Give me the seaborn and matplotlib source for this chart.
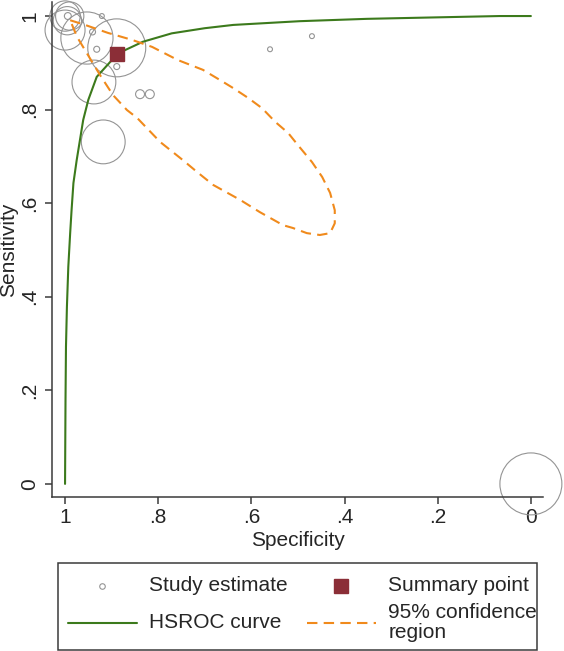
#!/usr/bin/env python3
# HSROC plot: study estimates, summary point, HSROC curve, 95% confidence region

import matplotlib
matplotlib.use("Agg")
import matplotlib.pyplot as plt
from matplotlib.lines import Line2D
from matplotlib.patches import Rectangle
import pandas as pd
import seaborn as sns

# ----------------------------
# Data
# ----------------------------
study_spec = [0.0, 0.889, 0.953, 0.938, 0.918, 1.0, 1.0, 0.995, 0.99,
              0.994, 0.921, 0.941, 0.932, 0.889, 0.839, 0.818, 0.560, 0.470]
study_sens = [0.0, 0.932, 0.953, 0.859, 0.731, 0.97, 1.0, 0.99, 1.0,
              1.0, 1.0, 0.966, 0.929, 0.892, 0.833, 0.833, 0.929, 0.957]
study_weight = [960, 840, 680, 480, 480, 400, 230, 200, 200,
                12, 6, 9, 9, 9, 20, 20, 6, 6]

summary_spec = [0.889]
summary_sens = [0.918]

hsroc_spec = [1.0, 0.999, 0.998, 0.996, 0.993, 0.989, 0.986, 0.982, 0.975,
              0.968, 0.961, 0.950, 0.932, 0.903, 0.878, 0.833, 0.771, 0.700,
              0.639, 0.496, 0.352, 0.210, 0.067, 0.0]
hsroc_sens = [0.0, 0.179, 0.293, 0.378, 0.464, 0.536, 0.585, 0.643, 0.692,
              0.735, 0.778, 0.821, 0.870, 0.902, 0.924, 0.945, 0.963, 0.974,
              0.981, 0.989, 0.994, 0.997, 1.000, 1.0]

region_spec = [0.989, 0.957, 0.908, 0.856, 0.813, 0.758, 0.704, 0.667, 0.639,
               0.607, 0.577, 0.549, 0.521, 0.500, 0.470, 0.448, 0.431, 0.421,
               0.421, 0.431, 0.453, 0.481, 0.511, 0.532, 0.582, 0.624, 0.682,
               0.717, 0.747, 0.796, 0.845, 0.867, 0.897, 0.925, 0.951, 0.974,
               0.989]
region_sens = [0.991, 0.981, 0.964, 0.949, 0.934, 0.906, 0.885, 0.863, 0.846,
               0.825, 0.803, 0.774, 0.750, 0.724, 0.688, 0.656, 0.622, 0.585,
               0.557, 0.536, 0.532, 0.536, 0.547, 0.553, 0.581, 0.607, 0.639,
               0.667, 0.692, 0.731, 0.782, 0.799, 0.831, 0.874, 0.917, 0.955,
               0.991]

tick_values = [1, 0.8, 0.6, 0.4, 0.2, 0]
tick_labels = ["1", ".8", ".6", ".4", ".2", "0"]

legend_labels = ["Study estimate", "HSROC curve", "Summary point",
                 "95% confidence\nregion"]

GREEN = "#3c7a1c"
ORANGE = "#f08a1c"
MAROON = "#8b2e37"
GREY = "#949494"
AXIS = "#3a3a3a"
DASH = (0, (5, 3))


def main():
    sns.set_style("ticks")
    plt.rcParams["font.family"] = ["Liberation Sans", "DejaVu Sans"]
    plt.rcParams["font.size"] = 15

    fig = plt.figure(figsize=(5.64, 6.51), dpi=100)
    ax = fig.add_axes([52 / 564, 154 / 651, 491 / 564, 495 / 651])

    studies = pd.DataFrame({"spec": study_spec, "sens": study_sens,
                            "w": study_weight})
    sns.scatterplot(data=studies, x="spec", y="sens", size="w",
                    sizes=(0, 1990), size_norm=(0, max(study_weight)),
                    facecolors="none", edgecolors=GREY, linewidths=0.8,
                    legend=False, ax=ax, clip_on=False, zorder=2)

    sns.lineplot(x=hsroc_spec, y=hsroc_sens, sort=False, estimator=None,
                 color=GREEN, lw=1.5, ax=ax, zorder=3)
    sns.lineplot(x=region_spec, y=region_sens, sort=False, estimator=None,
                 color=ORANGE, lw=1.5, ax=ax, zorder=4)
    ax.lines[-1].set_linestyle(DASH)
    ax.plot(summary_spec, summary_sens, marker="s", ms=9.6, color=MAROON,
            ls="none", zorder=5, clip_on=False)

    ax.set_xlim(1.028, -0.026)
    ax.set_ylim(-0.028, 1.03)
    ax.set_xticks(tick_values)
    ax.set_xticklabels(tick_labels)
    ax.set_yticks(tick_values)
    ax.set_yticklabels(tick_labels, rotation=90, va="center")
    ax.tick_params(length=5, width=1.1, color=AXIS, labelsize=15, pad=3)
    ax.tick_params(axis="y", pad=4)
    for side in ("top", "right"):
        ax.spines[side].set_visible(False)
    for side in ("left", "bottom"):
        ax.spines[side].set_color(AXIS)
        ax.spines[side].set_linewidth(1.1)

    ax.set_xlabel("Specificity", fontsize=15, labelpad=3)
    ax.set_ylabel("Sensitivity", fontsize=15, labelpad=2)

    # legend: frame drawn separately, entries packed inside it
    fig.add_artist(Rectangle((58 / 564, 1 / 651), 479 / 564, 87 / 651,
                             transform=fig.transFigure, fill=False,
                             ec=AXIS, lw=1.1))
    handles = [
        Line2D([], [], ls="none", marker="o", ms=4, mfc="none",
               mec=GREY, mew=0.8),
        Line2D([], [], color=GREEN, lw=1.5),
        Line2D([], [], ls="none", marker="s", ms=9.6, color=MAROON),
        Line2D([], [], color=ORANGE, lw=1.5, ls=DASH),
    ]
    leg = fig.legend(handles, legend_labels, ncol=2, loc="upper left",
                     bbox_to_anchor=(68 / 564, 1 - 576 / 651, 469 / 564, 0),
                     mode="expand", borderaxespad=0, borderpad=0,
                     fontsize=15, handlelength=3.3, handletextpad=0.6,
                     labelspacing=0.4, columnspacing=1.0, frameon=False)
    for t in leg.get_texts():
        t.set_linespacing(1.05)

    # centre the single-line "HSROC curve" row against the two-line label
    fig.canvas.draw()
    renderer = fig.canvas.get_renderer()
    col1, col2 = leg._legend_handle_box.get_children()
    row2_h = col2.get_children()[1].get_bbox(renderer).height
    for col in (col1, col2):
        for row in col.get_children():
            row.align = "center"
    col1.get_children()[1].height = row2_h

    fig.savefig("out.png", dpi=100)


if __name__ == "__main__":
    main()
